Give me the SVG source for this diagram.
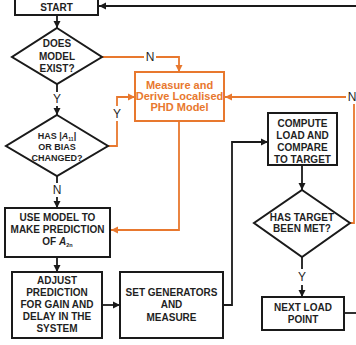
<svg xmlns="http://www.w3.org/2000/svg" width="356" height="345" viewBox="0 0 356 345">
  <style>
    .box { fill: #ffffff; stroke: #1a1a1a; stroke-width: 2; }
    .obox { fill: #ffffff; stroke: #e8782e; stroke-width: 2; }
    .t { font-family: "Liberation Sans", Arial, sans-serif; font-weight: bold; font-size: 10px; fill: #1f1f1f; text-anchor: middle; }
    .ts { font-size: 9px; }
    .ot { font-family: "Liberation Sans", Arial, sans-serif; font-weight: bold; font-size: 11px; fill: #e8782e; text-anchor: middle; }
    .lbl { font-family: "Liberation Sans", Arial, sans-serif; font-size: 12px; fill: #1f1f1f; text-anchor: middle; }
    .c { fill: none; stroke: #1a1a1a; stroke-width: 1.8; }
    .oc { fill: none; stroke: #e8782e; stroke-width: 1.8; }
  </style>
  <defs>
    <marker id="ah" markerUnits="userSpaceOnUse" markerWidth="8" markerHeight="8" refX="7" refY="4" orient="auto">
      <path d="M0,0.5 L7,4 L0,7.5 Z" fill="#1a1a1a"/>
    </marker>
    <marker id="aho" markerUnits="userSpaceOnUse" markerWidth="8" markerHeight="8" refX="7" refY="4" orient="auto">
      <path d="M0,0.5 L7,4 L0,7.5 Z" fill="#e8782e"/>
    </marker>
  </defs>

  <g id="connectors">
    <!-- loop back to start -->
    <path class="c" d="M356,6 H99" marker-end="url(#ah)"/>
    <path class="c" d="M57,15 V28" marker-end="url(#ah)"/>
    <!-- no model: measure -->
    <path class="oc" d="M102,57 H144 M156,57 H179 V72" marker-end="url(#aho)"/>
    <!-- model exists -->
    <path class="c" d="M57,84 V92 M57,106 V115" marker-end="url(#ah)"/>
    <!-- bias changed: re-measure -->
    <path class="oc" d="M108,146 H117 V121 M117,106 V97 H135" marker-end="url(#aho)"/>
    <!-- bias unchanged -->
    <path class="c" d="M57,176 V183 M57,197 V208" marker-end="url(#ah)"/>
    <!-- localised model to prediction -->
    <path class="oc" d="M179,121 V230 H111" marker-end="url(#aho)"/>
    <!-- target not met -->
    <path class="oc" d="M350,223 H354 V104"/>
    <path class="oc" d="M346,97 H225" marker-end="url(#aho)"/>
    <path class="c" d="M57,257 V272" marker-end="url(#ah)"/>
    <path class="c" d="M102,305 H120" marker-end="url(#ah)"/>
    <path class="c" d="M223,305 H232 V142 H268" marker-end="url(#ah)"/>
    <path class="c" d="M302,165 V190" marker-end="url(#ah)"/>
    <path class="c" d="M302,257 V269 M302,285 V297" marker-end="url(#ah)"/>
    <path class="c" d="M344,313 H356"/>
    <!-- branch labels -->
    <text class="lbl" x="150" y="61.3">N</text>
    <text class="lbl" x="57" y="103.3">Y</text>
    <text class="lbl" x="117" y="118.3">Y</text>
    <text class="lbl" x="57" y="194.3">N</text>
    <text class="lbl" x="352" y="101.3">N</text>
    <text class="lbl" x="302" y="281.3">Y</text>
  </g>

  <g id="start">
    <rect class="box" x="15" y="-1" width="83" height="16"/>
    <text class="t" x="56.5" y="10.6">START</text>
  </g>

  <g id="model-exists">
    <polygon class="box" points="57,28 102,57 57,84 12,57"/>
    <text class="t" x="57" y="46.6">DOES</text>
    <text class="t" x="57" y="59.6">MODEL</text>
    <text class="t" x="57" y="71.6">EXIST?</text>
  </g>

  <g id="measure-model">
    <rect class="obox" x="135" y="72" width="89" height="49"/>
    <text class="ot" x="179.5" y="89">Measure and</text>
    <text class="ot" x="179.5" y="100">Derive Localised</text>
    <text class="ot" x="179.5" y="111">PHD Model</text>
  </g>

  <g id="bias-changed">
    <polygon class="box" points="57,115 108,146 57,176 6,146"/>
    <text class="t ts" x="57" y="138.5">HAS |<tspan font-style="italic">A</tspan><tspan font-size="5" dy="2">11</tspan><tspan dy="-2">|</tspan></text>
    <text class="t ts" x="57" y="149.7">OR BIAS</text>
    <text class="t ts" x="57" y="160.7">CHANGED?</text>
  </g>

  <g id="use-model">
    <rect class="box" x="5" y="208" width="105" height="49"/>
    <text class="t" x="57.5" y="220.6">USE MODEL TO</text>
    <text class="t" x="57.5" y="232.6">MAKE PREDICTION</text>
    <text class="t" x="57.5" y="244.6">OF <tspan font-style="italic">A</tspan><tspan font-size="5.5" dy="2.5">2n</tspan></text>
  </g>

  <g id="adjust-prediction">
    <rect class="box" x="12" y="272" width="90" height="66"/>
    <text class="t" x="57" y="283.6">ADJUST</text>
    <text class="t" x="57" y="295.6">PREDICTION</text>
    <text class="t" x="57" y="307.6">FOR GAIN AND</text>
    <text class="t" x="57" y="319.6">DELAY IN THE</text>
    <text class="t" x="57" y="331.6">SYSTEM</text>
  </g>

  <g id="set-generators">
    <rect class="box" x="120" y="272" width="103" height="66"/>
    <text class="t" x="171.5" y="295.6">SET GENERATORS</text>
    <text class="t" x="171.5" y="308">AND</text>
    <text class="t" x="171.5" y="320.6">MEASURE</text>
  </g>

  <g id="compute-load">
    <rect class="box" x="268" y="113" width="69" height="52"/>
    <text class="t" x="302.5" y="126.6">COMPUTE</text>
    <text class="t" x="302.5" y="138.6">LOAD AND</text>
    <text class="t" x="302.5" y="150.6">COMPARE</text>
    <text class="t" x="302.5" y="162.6">TO TARGET</text>
  </g>

  <g id="target-met">
    <polygon class="box" points="302,190 350,223 302,257 254,223"/>
    <text class="t" x="302" y="220.6">HAS TARGET</text>
    <text class="t" x="302" y="232.1">BEEN MET?</text>
  </g>

  <g id="next-load">
    <rect class="box" x="262" y="297" width="82" height="33"/>
    <text class="t" x="303" y="310.6">NEXT LOAD</text>
    <text class="t" x="303" y="322.6">POINT</text>
  </g>
</svg>
